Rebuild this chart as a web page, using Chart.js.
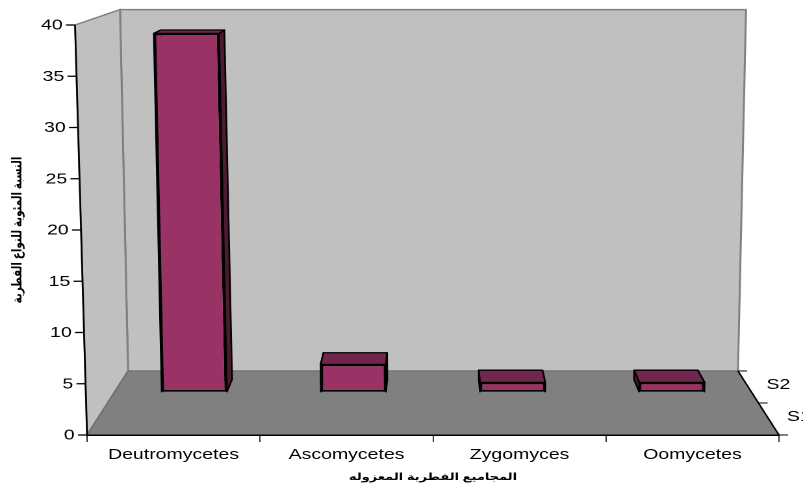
<!DOCTYPE html>
<html>
<head>
<meta charset="utf-8">
<style>
  html, body { margin: 0; background: #fff; overflow: hidden; }
  /* the reference is stretched sideways, so the canvas is too */
  canvas { display: block; width: 803px !important; height: 488px !important; }
</style>
<script src="https://cdn.jsdelivr.net/npm/chart.js@4"></script>
</head>
<body>
<canvas id="chart" width="618" height="488"></canvas>
<script>
// Data
const categories = ["Deutromycetes", "Ascomycetes", "Zygomyces", "Oomycetes"];
const s2Values = [38, 2.9, 1, 1];
const valueTicks = [0, 5, 10, 15, 20, 25, 30, 35, 40];
const depthLabels = ["S1", "S2"];
const xTitle = "المجاميع الفطرية المعزوله";
const yTitle = "النسبة المئوية للنواع الفطرية";

// Perspective of the 3D box
const vanishY = -105;
const verticalConverge = 11800;
const backWallShear = 0.76;
const backDepth = 0.1185;
const barFrontDepth = 0.08;
const barBackDepth = 0.103;

const fontFamily = '"Liberation Sans", "DejaVu Sans", sans-serif';

function project(chart, x, y, depth, xRef) {
    const area = chart.chartArea;
    const vx = (area.left + area.right) / 2;
    const shear = (vx - (xRef === undefined ? x : xRef)) / verticalConverge;
    const sx = x - shear * (area.bottom - y);
    return [sx + depth * (vx - sx), y + depth * (vanishY - y)];
}

function poly(ctx, points, fill, stroke, lineWidth) {
    ctx.beginPath();
    points.forEach((p, i) => (i ? ctx.lineTo(p[0], p[1]) : ctx.moveTo(p[0], p[1])));
    ctx.closePath();
    if (fill) {
        ctx.fillStyle = fill;
        ctx.fill();
    }
    if (stroke) {
        ctx.strokeStyle = stroke;
        ctx.lineWidth = lineWidth;
        ctx.stroke();
    }
}

const box3d = {
    id: "box3d",
    // walls and floor
    beforeDraw(chart) {
        const { ctx, chartArea: a } = chart;
        const vx = (a.left + a.right) / 2;
        const backShearLeft = vx - (vx - a.left) * backWallShear;
        const backShearRight = vx + (a.right - vx) * backWallShear;
        const frontTL = project(chart, a.left, a.top, 0);
        const frontBL = project(chart, a.left, a.bottom, 0);
        const frontBR = project(chart, a.right, a.bottom, 0);
        const backTL = project(chart, a.left, a.top, backDepth, backShearLeft);
        const backBL = project(chart, a.left, a.bottom, backDepth);
        const backTR = project(chart, a.right, a.top, backDepth, backShearRight);
        const backBR = project(chart, a.right, a.bottom, backDepth);
        ctx.save();
        poly(ctx, [backTL, backTR, backBR, backBL], "#c0c0c0", "#808080", 1.5);
        poly(ctx, [frontTL, backTL, backBL, frontBL], "#c0c0c0", "#808080", 1.5);
        poly(ctx, [backBL, backBR, frontBR, frontBL], "#808080", "#6e6e6e", 1);
        ctx.restore();
    },
    // bars are native elements, drawn in the plane of their row
    beforeDatasetDraw(chart, args) {
        const { ctx, chartArea: a } = chart;
        const vx = (a.left + a.right) / 2;
        args.meta.data.forEach((bar) => {
            const { x, y, base, width } = bar.getProps(["x", "y", "base", "width"]);
            const l = x - width / 2;
            const r = x + width / 2;
            const p = (px, py, d) => project(chart, px, py, d, x);
            ctx.save();
            ctx.lineJoin = "round";
            poly(ctx, [p(l, y, barFrontDepth), p(l, y, barBackDepth), p(l, base, barBackDepth), p(l, base, barFrontDepth)], "#4d1a33", "#000", 1.3);
            poly(ctx, [p(r, y, barFrontDepth), p(r, y, barBackDepth), p(r, base, barBackDepth), p(r, base, barFrontDepth)], "#4d1a33", "#000", 1.3);
            poly(ctx, [p(l, y, barFrontDepth), p(l, y, barBackDepth), p(r, y, barBackDepth), p(r, y, barFrontDepth)], "#73264d", "#000", 1.3);
            const m = 1 - barFrontDepth;
            const shear = (vx - x) / verticalConverge;
            ctx.transform(m, 0, m * shear, m, m * -shear * a.bottom + barFrontDepth * vx, barFrontDepth * vanishY);
            bar.draw(ctx);
            ctx.restore();
        });
        return false;
    },
    // slanted value axis and the depth axis
    afterDraw(chart) {
        const { ctx, chartArea: a, scales } = chart;
        ctx.save();
        ctx.strokeStyle = "#000";
        ctx.lineWidth = 1.3;
        const axisTop = project(chart, a.left, a.top, 0);
        const axisBottom = project(chart, a.left, a.bottom, 0);
        ctx.beginPath();
        ctx.moveTo(axisTop[0], axisTop[1]);
        ctx.lineTo(axisBottom[0], axisBottom[1]);
        ctx.stroke();

        ctx.fillStyle = "#000";
        ctx.font = "15px " + fontFamily;
        ctx.textAlign = "right";
        ctx.textBaseline = "middle";
        scales.y.ticks.forEach((tick) => {
            const p = project(chart, a.left, scales.y.getPixelForValue(tick.value), 0);
            ctx.beginPath();
            ctx.moveTo(p[0] - 7, p[1]);
            ctx.lineTo(p[0], p[1]);
            ctx.stroke();
            ctx.fillText(String(tick.value), p[0] - 9.5, p[1] + 0.5);
        });

        const edgeFront = project(chart, a.right, a.bottom, 0);
        const edgeBack = project(chart, a.right, a.bottom, backDepth);
        ctx.beginPath();
        ctx.moveTo(edgeFront[0], edgeFront[1]);
        ctx.lineTo(edgeBack[0], edgeBack[1]);
        ctx.stroke();
        ctx.textAlign = "left";
        for (let i = 0; i <= depthLabels.length; i++) {
            const p = project(chart, a.right, a.bottom, backDepth * i / depthLabels.length);
            ctx.lineWidth = 1;
            ctx.beginPath();
            ctx.moveTo(p[0], p[1]);
            ctx.lineTo(p[0] + 7, p[1]);
            ctx.stroke();
        }
        depthLabels.forEach((label, i) => {
            const p = project(chart, a.right, a.bottom, backDepth * (i + 0.5) / depthLabels.length);
            ctx.fillText(label, p[0] + 14, p[1] - 2);
        });
        ctx.restore();
    },
};

new Chart(document.getElementById("chart"), {
    type: "bar",
    data: {
        labels: categories,
        datasets: [
            {
                label: "S2",
                data: s2Values,
                backgroundColor: "#993366",
                borderColor: "#000",
                borderWidth: 2,
                borderSkipped: false,
                barPercentage: 0.41,
                categoryPercentage: 1,
            },
        ],
    },
    options: {
        responsive: false,
        animation: false,
        devicePixelRatio: 2,
        layout: { padding: { top: 25, right: 18.5 } },
        plugins: { legend: { display: false }, tooltip: { enabled: false } },
        scales: {
            x: {
                afterFit: (scale) => { scale.height = 53; },
                border: { color: "#000", width: 1.5 },
                grid: { offset: true, drawOnChartArea: false, color: "#333", tickLength: 7 },
                ticks: {
                    autoSkip: false,
                    maxRotation: 0,
                    padding: 4,
                    color: "#000",
                    font: { family: fontFamily, size: 15 },
                },
                title: {
                    display: true,
                    text: xTitle,
                    color: "#000",
                    padding: { top: 0, bottom: 5 },
                    font: { family: fontFamily, size: 10, weight: "bold" },
                },
            },
            y: {
                min: 0,
                max: 40,
                afterBuildTicks: (scale) => { scale.ticks = valueTicks.map((v) => ({ value: v })); },
                afterFit: (scale) => { scale.width = 67; },
                border: { display: false },
                grid: { display: false },
                ticks: { display: false },
                title: {
                    display: true,
                    text: yTitle,
                    color: "#000",
                    padding: { top: 7.5, bottom: 0 },
                    font: { family: fontFamily, size: 10.3, weight: "bold" },
                },
            },
        },
    },
    plugins: [box3d],
});
</script>
</body>
</html>
